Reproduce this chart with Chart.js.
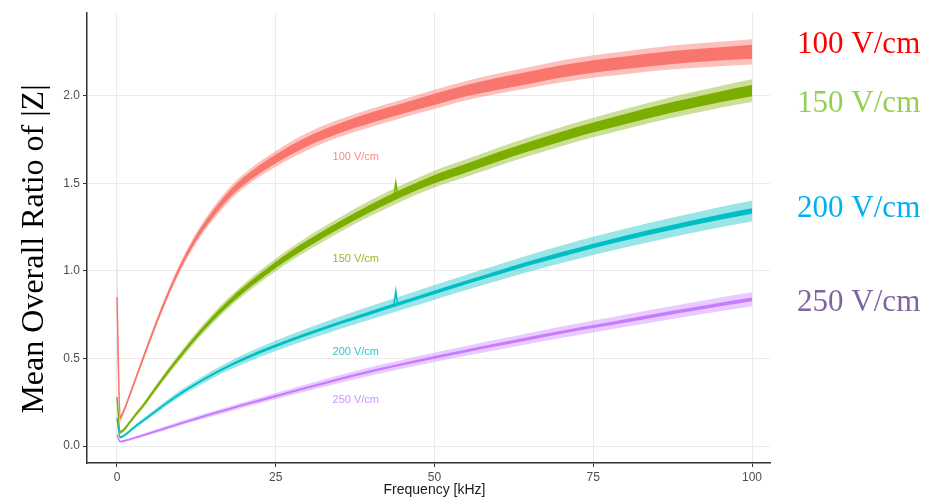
<!DOCTYPE html>
<html>
<head>
<meta charset="utf-8">
<script src="https://cdn.jsdelivr.net/npm/chart.js@4.4.1/dist/chart.umd.min.js"></script>
<style>
  html, body { margin: 0; padding: 0; background: #fff; }
  canvas { display: block; }
</style>
</head>
<body>
<canvas id="zChart" width="927" height="499"></canvas>
<script>
// frequency grid (kHz)
const freq = [0, 0.5, 1, 2, 3, 4, 6, 8, 10, 12.5, 15, 17.5, 20, 25, 30, 35, 40, 45, 50, 55, 60, 65, 70, 75, 80, 87.5, 95, 100];

// mean |Z| ratio per field strength
const mean100 = [0.85, 0.16, 0.195, 0.29, 0.39, 0.49, 0.685, 0.865, 1.025, 1.19, 1.32, 1.43, 1.515, 1.64, 1.74, 1.815, 1.875, 1.928, 1.98, 2.03, 2.07, 2.105, 2.14, 2.168, 2.19, 2.22, 2.24, 2.252];
const mean150 = [0.28, 0.08, 0.09, 0.135, 0.182, 0.225, 0.325, 0.423, 0.515, 0.625, 0.725, 0.815, 0.895, 1.035, 1.155, 1.262, 1.36, 1.448, 1.525, 1.588, 1.652, 1.712, 1.768, 1.82, 1.868, 1.935, 1.995, 2.03];
const mean200 = [0.16, 0.05, 0.057, 0.085, 0.115, 0.142, 0.196, 0.25, 0.30, 0.356, 0.408, 0.455, 0.498, 0.573, 0.64, 0.703, 0.762, 0.82, 0.878, 0.935, 0.99, 1.045, 1.095, 1.143, 1.188, 1.25, 1.308, 1.343];
const mean250 = [0.065, 0.025, 0.028, 0.038, 0.049, 0.06, 0.083, 0.106, 0.129, 0.157, 0.184, 0.21, 0.236, 0.285, 0.334, 0.382, 0.427, 0.468, 0.507, 0.544, 0.58, 0.615, 0.65, 0.683, 0.715, 0.763, 0.809, 0.838];

// outer (light) ribbon half-widths
const band100 = [0.32, 0.02, 0.015, 0.015, 0.015, 0.018, 0.02, 0.022, 0.025, 0.03, 0.035, 0.038, 0.04, 0.045, 0.05, 0.05, 0.052, 0.052, 0.055, 0.055, 0.058, 0.06, 0.062, 0.064, 0.066, 0.068, 0.07, 0.072];
const band150 = [0.02, 0.012, 0.012, 0.012, 0.014, 0.015, 0.018, 0.02, 0.022, 0.025, 0.028, 0.03, 0.032, 0.036, 0.04, 0.042, 0.045, 0.046, 0.048, 0.05, 0.052, 0.054, 0.055, 0.056, 0.058, 0.06, 0.062, 0.065];
const band200 = [0.01, 0.008, 0.008, 0.01, 0.011, 0.012, 0.014, 0.016, 0.018, 0.02, 0.022, 0.024, 0.026, 0.03, 0.033, 0.036, 0.038, 0.04, 0.042, 0.044, 0.046, 0.048, 0.05, 0.052, 0.054, 0.056, 0.058, 0.06];
const band250 = [0.006, 0.006, 0.006, 0.007, 0.008, 0.009, 0.01, 0.011, 0.012, 0.013, 0.014, 0.015, 0.016, 0.018, 0.02, 0.022, 0.024, 0.025, 0.027, 0.028, 0.03, 0.031, 0.033, 0.034, 0.035, 0.037, 0.039, 0.04];

// inner (dark) ribbon half-widths
const core100 = [0.0, 0.008, 0.008, 0.008, 0.008, 0.01, 0.01, 0.012, 0.014, 0.016, 0.018, 0.02, 0.022, 0.025, 0.027, 0.028, 0.03, 0.03, 0.032, 0.032, 0.034, 0.035, 0.035, 0.036, 0.036, 0.037, 0.038, 0.04];
const core150 = [0.005, 0.006, 0.006, 0.006, 0.007, 0.008, 0.009, 0.01, 0.011, 0.012, 0.014, 0.015, 0.016, 0.018, 0.02, 0.021, 0.022, 0.022, 0.024, 0.025, 0.026, 0.027, 0.028, 0.028, 0.029, 0.03, 0.031, 0.032];
const core200 = [0.004, 0.004, 0.004, 0.004, 0.005, 0.005, 0.005, 0.006, 0.006, 0.006, 0.007, 0.007, 0.008, 0.008, 0.009, 0.009, 0.01, 0.01, 0.011, 0.011, 0.012, 0.012, 0.013, 0.013, 0.014, 0.014, 0.015, 0.016];
const core250 = [0.003, 0.003, 0.003, 0.003, 0.003, 0.004, 0.004, 0.004, 0.004, 0.005, 0.005, 0.005, 0.005, 0.006, 0.006, 0.006, 0.007, 0.007, 0.008, 0.008, 0.008, 0.009, 0.009, 0.009, 0.01, 0.01, 0.01, 0.011];

// short glitch near 44 kHz in the 150 and 200 V/cm traces
const glitchFreq = [43.6, 43.9, 44.2];
const glitch150 = [1.425, 1.505, 1.43];
const glitch200 = [0.802, 0.885, 0.806];

const seriesNames = ['100 V/cm', '150 V/cm', '200 V/cm', '250 V/cm'];
const xTicks = [0, 25, 50, 75, 100];
const yTicks = [0, 0.5, 1.0, 1.5, 2.0];
const xTitle = 'Frequency [kHz]';
const yTitle = 'Mean Overall Ratio of |Z|';

// where the in-panel and right-hand labels sit (data units)
const inlineLabelX = 37.6;
const inlineLabelY = [1.649, 1.069, 0.54, 0.263];
const rightLabelX = 107.1;
const rightLabelY = [2.246, 1.909, 1.309, 0.771];

const lineColors = ['#F8766D', '#7CAE00', '#00BFC4', '#C77CFF'];
const bandColors = ['rgba(248,118,109,0.45)', 'rgba(124,174,0,0.40)', 'rgba(0,191,196,0.40)', 'rgba(199,124,255,0.40)'];
const rightColors = ['#FF0000', '#92D050', '#00B0F0', '#8064A2'];

const means = [mean100, mean150, mean200, mean250];
const bands = [band100, band150, band200, band250];
const cores = [core100, core150, core200, core250];

function offsetPoints(values, spread, sign) {
    return values.map((v, i) => ({ x: freq[i], y: v + sign * spread[i] }));
}

const datasets = [];
means.forEach((m, i) => {
    const base = { pointRadius: 0, borderWidth: 0, cubicInterpolationMode: 'monotone' };
    datasets.push({ ...base, data: offsetPoints(m, bands[i], 1), fill: '+1', backgroundColor: bandColors[i], order: 3 });
    datasets.push({ ...base, data: offsetPoints(m, bands[i], -1), fill: false, order: 3 });
    datasets.push({ ...base, data: offsetPoints(m, cores[i], 1), fill: '+1', backgroundColor: lineColors[i], order: 2 });
    datasets.push({ ...base, data: offsetPoints(m, cores[i], -1), fill: false, order: 2 });
    datasets.push({ ...base, data: offsetPoints(m, cores[i], 0), borderWidth: 1.5, borderColor: lineColors[i], fill: false, order: 1 });
});
[[glitch150, 1], [glitch200, 2]].forEach(([vals, i]) => {
    datasets.push({
        data: vals.map((v, k) => ({ x: glitchFreq[k], y: v })),
        borderColor: lineColors[i], borderWidth: 1.5, pointRadius: 0, tension: 0, fill: false, order: 1
    });
});

const textLayer = {
    id: 'textLayer',
    afterDraw(chart) {
        const { ctx, scales: { x, y } } = chart;
        ctx.save();

        // small labels inside the panel
        ctx.font = '11px "Liberation Sans", Arial, sans-serif';
        ctx.textAlign = 'center';
        ctx.textBaseline = 'middle';
        ctx.globalAlpha = 0.85;
        seriesNames.forEach((name, i) => {
            ctx.fillStyle = lineColors[i];
            ctx.fillText(name, x.getPixelForValue(inlineLabelX), y.getPixelForValue(inlineLabelY[i]));
        });
        ctx.globalAlpha = 1;

        // big labels on the right
        ctx.font = '31px "Liberation Serif", "Times New Roman", serif';
        ctx.textAlign = 'left';
        ctx.textBaseline = 'alphabetic';
        seriesNames.forEach((name, i) => {
            ctx.fillStyle = rightColors[i];
            ctx.fillText(name, x.getPixelForValue(rightLabelX), y.getPixelForValue(rightLabelY[i]));
        });

        // axis titles
        ctx.fillStyle = '#1a1a1a';
        ctx.font = '14px "Liberation Sans", Arial, sans-serif';
        ctx.textAlign = 'center';
        ctx.textBaseline = 'middle';
        ctx.fillText(xTitle, x.getPixelForValue(50), chart.height - 9);

        ctx.translate(43, 249);
        ctx.rotate(-Math.PI / 2);
        ctx.fillStyle = '#000';
        ctx.font = '32px "Liberation Serif", "Times New Roman", serif';
        ctx.textBaseline = 'alphabetic';
        ctx.fillText(yTitle, 0, 0);
        ctx.restore();
    }
};

const tickFont = { family: '"Liberation Sans", Arial, sans-serif', size: 12 };

new Chart(document.getElementById('zChart'), {
    type: 'line',
    data: { datasets },
    options: {
        responsive: false,
        animation: false,
        layout: { padding: { top: 13, right: 157, left: 0, bottom: 0 } },
        plugins: { legend: { display: false }, tooltip: { enabled: false } },
        scales: {
            x: {
                type: 'linear',
                min: -4.72,
                max: 102.83,
                afterBuildTicks: s => { s.ticks = xTicks.map(v => ({ value: v })); },
                afterFit: s => { s.height = 36; },
                ticks: { font: tickFont, color: '#4D4D4D', padding: 3, maxRotation: 0 },
                grid: { color: '#EBEBEB', lineWidth: 1, tickColor: '#333', tickLength: 4 },
                border: { color: '#333', width: 1.5 }
            },
            y: {
                type: 'linear',
                min: -0.097,
                max: 2.474,
                afterBuildTicks: s => { s.ticks = yTicks.map(v => ({ value: v })); },
                afterFit: s => { s.width = 87; },
                ticks: { font: tickFont, color: '#4D4D4D', padding: 3, callback: v => v.toFixed(1) },
                grid: { color: '#EBEBEB', lineWidth: 1, tickColor: '#333', tickLength: 4 },
                border: { color: '#333', width: 1.5 }
            }
        }
    },
    plugins: [textLayer]
});
</script>
</body>
</html>
